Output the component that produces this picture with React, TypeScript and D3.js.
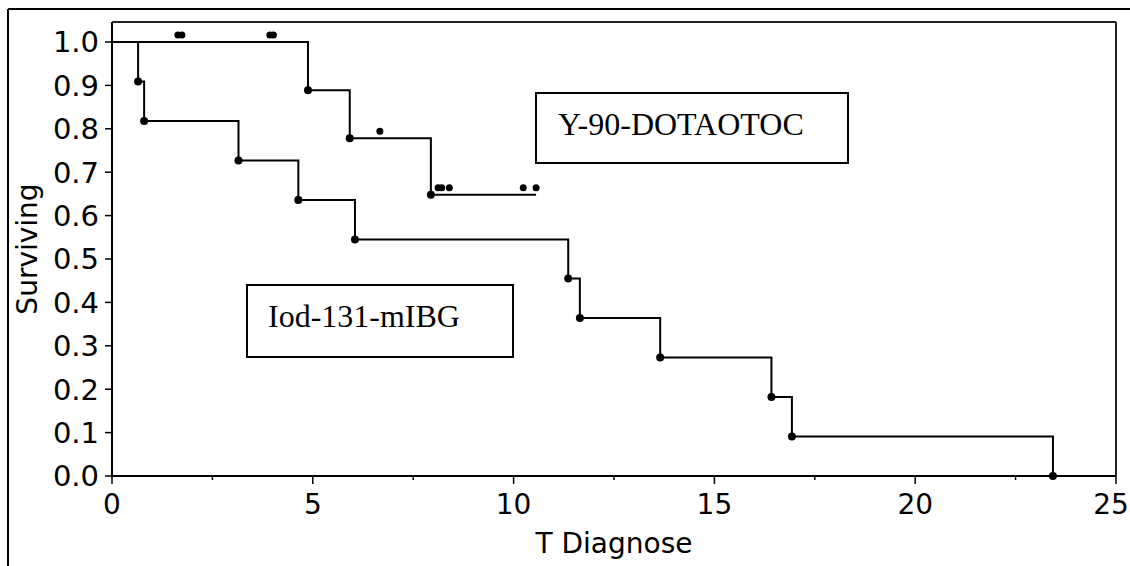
import * as d3 from 'd3'
import React from 'react'

// Y-90-DOTATOC group: event times and survival after each event
const yEventTimes = [4.88, 5.92, 7.94]
const ySurvival = [0.889, 0.778, 0.648]
const yLastTime = 10.56
const yCensorTimes = [1.64, 1.74, 3.93, 4.02, 6.67, 8.12, 8.21, 8.4, 10.24, 10.56]

// Iod-131-mIBG group
const iEventTimes = [0.65, 0.8, 3.15, 4.64, 6.05, 11.36, 11.65, 13.65, 16.42, 16.93, 23.43]
const iSurvival = [0.909, 0.818, 0.727, 0.636, 0.545, 0.455, 0.364, 0.273, 0.182, 0.091, 0.0]

const yTicks = [0, 0.1, 0.2, 0.3, 0.4, 0.5, 0.6, 0.7, 0.8, 0.9, 1.0]
const xMajorTicks = [0, 5, 10, 15, 20, 25]
const xMinorTicks = [2.5, 7.5, 12.5, 17.5, 22.5]

const labelY90 = 'Y-90-DOTAOTOC'
const labelIod = 'Iod-131-mIBG'

const width = 1130
const height = 566
const margin = { top: 22, right: 14, bottom: 90, left: 112 }

type Pt = { t: number; s: number }

// survival level just before time t
const levelAt = (times: number[], surv: number[], t: number) => {
  let s = 1
  times.forEach((et, i) => {
    if (et <= t) s = surv[i]
  })
  return s
}

const App = () => {
  const x = d3.scaleLinear().domain([0, 25]).range([margin.left, width - margin.right])
  const y = d3.scaleLinear().domain([0, 1]).range([height - margin.bottom, margin.top + 20])
  const x0 = x(0)
  const y0 = y(0)

  const stepLine = d3
    .line<Pt>()
    .x((d) => x(d.t))
    .y((d) => y(d.s))
    .curve(d3.curveStepAfter)

  const yPts: Pt[] = [{ t: 0, s: 1 }]
  yEventTimes.forEach((t, i) => yPts.push({ t, s: ySurvival[i] }))
  yPts.push({ t: yLastTime, s: ySurvival[ySurvival.length - 1] })

  const iPts: Pt[] = [{ t: 0, s: 1 }]
  iEventTimes.forEach((t, i) => iPts.push({ t, s: iSurvival[i] }))

  const font = "'DejaVu Sans', Verdana, sans-serif"
  const serif = "'Liberation Serif', 'Times New Roman', serif"

  return (
    <div style={{ position: 'fixed', left: 0, top: 0, background: '#fff' }}>
      <svg width={width} height={height} style={{ display: 'block' }}>
        <rect x={0} y={0} width={width} height={height} fill='#fff' />
        {/* outer frame */}
        <line x1={8} x2={width} y1={9} y2={9} stroke='#000' strokeWidth={2} />
        <line x1={8} x2={8} y1={9} y2={height} stroke='#000' strokeWidth={2} />

        {/* plot frame top / right */}
        <line x1={x0} x2={x(25)} y1={margin.top} y2={margin.top} stroke='#222' strokeWidth={2} />
        <line x1={x(25)} x2={x(25)} y1={margin.top} y2={y0} stroke='#222' strokeWidth={2} />

        {/* axes */}
        <line x1={x0} x2={x0} y1={margin.top} y2={y0} stroke='#000' strokeWidth={2} />
        <line x1={x0} x2={x(25)} y1={y0} y2={y0} stroke='#000' strokeWidth={2} />

        {yTicks.map((t) => (
          <g key={'yt' + t}>
            <line x1={x0 - 7} x2={x0} y1={y(t)} y2={y(t)} stroke='#000' strokeWidth={1.5} />
            <text
              x={x0 - 13}
              y={y(t)}
              dy='0.36em'
              textAnchor='end'
              fontFamily={font}
              fontSize={29}
              fill='#000'
            >
              {d3.format('.1f')(t)}
            </text>
          </g>
        ))}

        {xMajorTicks.map((t) => (
          <g key={'xt' + t}>
            <line x1={x(t)} x2={x(t)} y1={y0} y2={y0 + 8} stroke='#000' strokeWidth={1.5} />
            <text
              x={Math.min(x(t), width - 19)}
              y={y0 + 38}
              textAnchor='middle'
              fontFamily={font}
              fontSize={28}
              fill='#000'
            >
              {t}
            </text>
          </g>
        ))}
        {xMinorTicks.map((t) => (
          <line key={'xm' + t} x1={x(t)} x2={x(t)} y1={y0} y2={y0 + 4} stroke='#000' strokeWidth={1.5} />
        ))}

        {/* axis titles */}
        <text
          x={(x0 + x(25)) / 2}
          y={y0 + 77}
          textAnchor='middle'
          fontFamily={font}
          fontSize={28}
          fill='#000'
        >
          T Diagnose
        </text>
        <text
          transform={`translate(37,${(margin.top + y0) / 2}) rotate(-90)`}
          textAnchor='middle'
          fontFamily={font}
          fontSize={28}
          fill='#000'
        >
          Surviving
        </text>

        {/* survival curves */}
        <path d={stepLine(yPts) || ''} fill='none' stroke='#000' strokeWidth={2} />
        <path d={stepLine(iPts) || ''} fill='none' stroke='#000' strokeWidth={2} />

        {/* event markers */}
        {yEventTimes.map((t, i) => (
          <circle key={'ye' + i} cx={x(t)} cy={y(ySurvival[i])} r={4} fill='#000' />
        ))}
        {iEventTimes.map((t, i) => (
          <circle key={'ie' + i} cx={x(t)} cy={y(iSurvival[i])} r={4} fill='#000' />
        ))}

        {/* censored markers, drawn just above the curve */}
        {yCensorTimes.map((t, i) => (
          <circle
            key={'yc' + i}
            cx={x(t)}
            cy={y(levelAt(yEventTimes, ySurvival, t)) - 7}
            r={3.5}
            fill='#000'
          />
        ))}

        {/* labels */}
        <rect x={536} y={93} width={312} height={70} fill='#fff' stroke='#000' strokeWidth={2} />
        <text x={558} y={135} fontFamily={serif} fontSize={32} fill='#000'>
          {labelY90}
        </text>
        <rect x={247} y={285} width={266} height={72} fill='#fff' stroke='#000' strokeWidth={2} />
        <text x={268} y={327} fontFamily={serif} fontSize={32} fill='#000'>
          {labelIod}
        </text>
      </svg>
    </div>
  )
}

export default App
